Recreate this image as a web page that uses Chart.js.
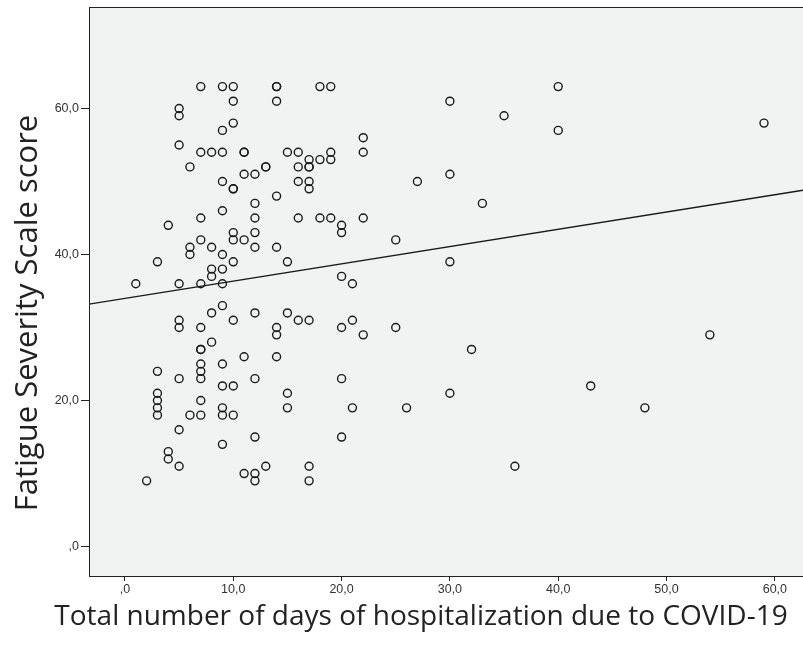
<!DOCTYPE html>
<html>
<head>
<meta charset="utf-8">
<script src="https://cdn.jsdelivr.net/npm/chart.js@4.4.1/dist/chart.umd.min.js"></script>
<style>
  html, body { margin: 0; padding: 0; background: #fff; }
  #wrap { width: 803px; height: 645px; }
</style>
</head>
<body>
<div id="wrap"><canvas id="fssChart" width="803" height="645"></canvas></div>
<script>
// days of hospitalization (x) and FSS score (y)
var days = [
  7, 9, 10, 14, 14, 18, 19, 30, 40,
  10, 14,
  5, 5, 35,
  10, 59,
  9, 40,
  5, 22,
  7, 8, 9, 11, 11, 15, 16, 19, 22,
  6, 13, 13, 16, 17, 17,
  17, 18, 19,
  11, 12, 30,
  9, 16, 17, 27,
  10, 10, 17,
  14,
  12, 33,
  9,
  7, 12, 16, 18, 19, 22,
  4, 20,
  10, 12, 20,
  7, 10, 11, 25,
  6, 8, 12, 14,
  6, 9,
  3, 10, 15, 30,
  8, 9,
  8, 20,
  1, 5, 7, 9, 21,
  9,
  8, 12, 15,
  5, 10, 16, 17, 21,
  5, 7, 14, 20, 25,
  14, 22, 54,
  8,
  7, 7, 32,
  11, 14,
  7, 9,
  7, 3,
  7, 5, 12, 20,
  9, 10, 43,
  3, 15, 30,
  3, 7,
  3, 9, 15, 21, 26, 48,
  3, 6, 7, 9, 10,
  5,
  12, 20,
  9,
  4,
  4,
  5, 13, 17, 36,
  11, 12,
  2, 12, 17
];
var fss = [
  63, 63, 63, 63, 63, 63, 63, 61, 63,
  61, 61,
  60, 59, 59,
  58, 58,
  57, 57,
  55, 56,
  54, 54, 54, 54, 54, 54, 54, 54, 54,
  52, 52, 52, 52, 52, 52,
  53, 53, 53,
  51, 51, 51,
  50, 50, 50, 50,
  49, 49, 49,
  48,
  47, 47,
  46,
  45, 45, 45, 45, 45, 45,
  44, 44,
  43, 43, 43,
  42, 42, 42, 42,
  41, 41, 41, 41,
  40, 40,
  39, 39, 39, 39,
  38, 38,
  37, 37,
  36, 36, 36, 36, 36,
  33,
  32, 32, 32,
  31, 31, 31, 31, 31,
  30, 30, 30, 30, 30,
  29, 29, 29,
  28,
  27, 27, 27,
  26, 26,
  25, 25,
  24, 24,
  23, 23, 23, 23,
  22, 22, 22,
  21, 21, 21,
  20, 20,
  19, 19, 19, 19, 19, 19,
  18, 18, 18, 18, 18,
  16,
  15, 15,
  14,
  13,
  12,
  11, 11, 11, 11,
  10, 10,
  9, 9, 9
];

// fit line end points
var fitDays = [-3.32, 62.6];
var fitScore = [33.2, 48.8];

var xTicks = [0, 10, 20, 30, 40, 50, 60];
var yTicks = [0, 20, 40, 60];

var xTitle = 'Total number of days of hospitalization due to COVID-19';
var yTitle = 'Fatigue Severity Scale score';

function commaLabel(v) {
  var s = Number(v).toFixed(1).replace('.', ',');
  return s.indexOf('0,') === 0 ? s.substring(1) : s;
}

var plotBg = {
  id: 'plotBg',
  beforeDraw: function (chart) {
    var a = chart.chartArea, c = chart.ctx;
    c.save();
    c.fillStyle = '#f1f2f2';
    c.fillRect(a.left, a.top, a.right - a.left, a.bottom - a.top);
    c.strokeStyle = '#222';
    c.lineWidth = 1;
    c.beginPath();
    c.moveTo(a.left, a.top + 0.5);
    c.lineTo(a.right, a.top + 0.5);
    c.stroke();
    c.restore();
  },
  // axis titles, placed like the SPSS original (not centred on the plot)
  afterDraw: function (chart) {
    var c = chart.ctx;
    c.save();
    c.fillStyle = '#222';
    c.textAlign = 'center';
    c.textBaseline = 'middle';
    c.font = '28px "Open Sans"';
    c.fillText(xTitle, 421, 617);
    c.translate(28, 313);
    c.rotate(-Math.PI / 2);
    c.font = '31px "Open Sans"';
    c.fillText(yTitle, 0, 0);
    c.restore();
  }
};

var points = days.map(function (d, i) { return { x: d, y: fss[i] }; });
var fit = fitDays.map(function (d, i) { return { x: d, y: fitScore[i] }; });

new Chart(document.getElementById('fssChart').getContext('2d'), {
  type: 'scatter',
  data: {
    datasets: [
      {
        label: 'FSS',
        data: points,
        pointStyle: 'circle',
        pointRadius: 4,
        pointBorderWidth: 1.4,
        pointBorderColor: '#1a1a1a',
        pointBackgroundColor: 'rgba(0,0,0,0)'
      },
      {
        label: 'Fit',
        type: 'line',
        data: fit,
        borderColor: '#1a1a1a',
        borderWidth: 1.4,
        pointRadius: 0,
        fill: false
      }
    ]
  },
  options: {
    responsive: false,
    animation: false,
    layout: { autoPadding: false, padding: { top: 7, left: 0, right: 0, bottom: 0 } },
    plugins: {
      legend: { display: false },
      tooltip: { enabled: false }
    },
    scales: {
      x: {
        type: 'linear',
        min: -3.32,
        max: 62.6,
        afterBuildTicks: function (s) { s.ticks = xTicks.map(function (v) { return { value: v }; }); },
        afterFit: function (s) { s.height = 69; s.paddingLeft = 0; s.paddingRight = 0; },
        grid: { drawOnChartArea: false, drawTicks: true, tickLength: 5, tickColor: '#222' },
        border: { display: true, color: '#222', width: 1 },
        ticks: {
          color: '#333',
          padding: 1,
          maxRotation: 0,
          font: { family: 'Liberation Sans', size: 12.5 },
          callback: function (v) { return commaLabel(v); }
        },
        title: { display: false }
      },
      y: {
        type: 'linear',
        min: -4.03,
        max: 73.9,
        afterBuildTicks: function (s) { s.ticks = yTicks.map(function (v) { return { value: v }; }); },
        afterFit: function (s) { s.width = 89; s.paddingTop = 0; s.paddingBottom = 0; },
        grid: { drawOnChartArea: false, drawTicks: true, tickLength: 8, tickColor: '#222' },
        border: { display: true, color: '#222', width: 1 },
        ticks: {
          color: '#333',
          padding: 2,
          font: { family: 'Liberation Sans', size: 12.5 },
          callback: function (v) { return commaLabel(v); }
        },
        title: { display: false }
      }
    }
  },
  plugins: [plotBg]
});
</script>
</body>
</html>
